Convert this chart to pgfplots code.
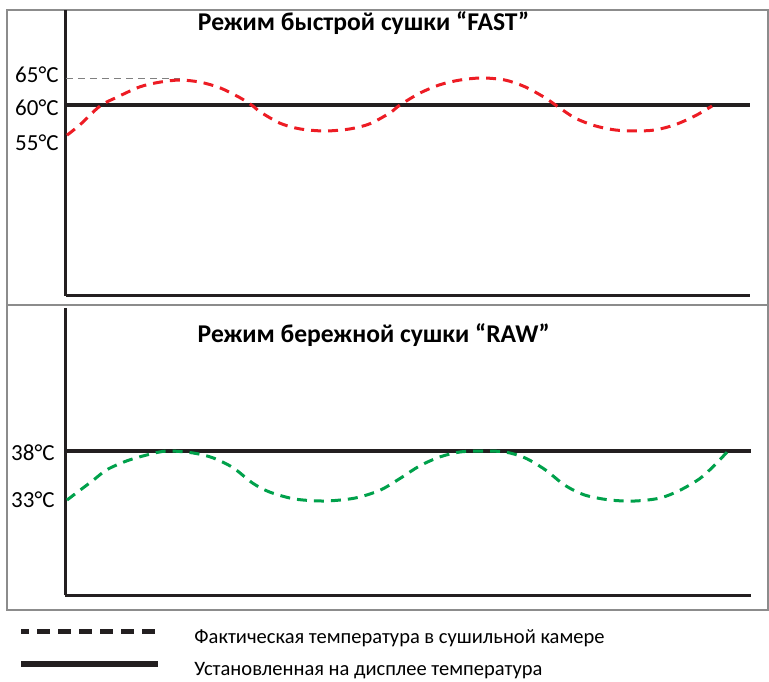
\documentclass[border=0pt]{standalone}
\usepackage{pgfplots}
\pgfplotsset{compat=1.18}
\usepackage{fontspec}
\setmainfont{Carlito}
\definecolor{axblack}{HTML}{231F20}
\definecolor{cred}{HTML}{ED1C24}
\definecolor{cgreen}{HTML}{00A14B}
\definecolor{framegray}{HTML}{8C8C8C}

% 1 px of the 769x675 reference = 0.5pt
\pgfplotsset{
  panel/.style={
    scale only axis,
    axis x line=bottom, axis y line=left,
    axis line style={-, axblack, line width=1.5pt},
    xtick=\empty, major tick length=0pt,
    xmin=0,
    yticklabel style={font=\fontsize{11.5}{13}\selectfont, inner sep=1pt},
    every axis title/.style={font=\fontsize{12.8}{14}\selectfont\bfseries, anchor=center},
  },
  setpoint/.style={axblack, line width=1.6pt},
  actual/.style={line width=1.5pt, dash pattern=on 5pt off 3.5pt, smooth},
}

\begin{document}
\fontsize{10.5}{12}\selectfont
\begin{tikzpicture}
\path (0pt,0pt) rectangle (384.5pt,337.5pt);
\draw[framegray, line width=1pt] (3.5pt,32.5pt) rectangle (384pt,332.5pt);
\draw[framegray, line width=1pt] (3.5pt,185pt) -- (384pt,185pt);

% FAST mode
\begin{axis}[panel,
  at={(33pt,189.5pt)}, anchor=south west,
  width=342pt, height=143pt,
  xmax=684, ymin=23.27, ymax=78.27,
  ytick={52.7,59.4,65.8},
  yticklabels={55°C,60°C,65°C},
  yticklabel style={xshift=-2.5pt},
  title={Режим быстрой сушки “FAST”},
  title style={at={(0.435,0.955)}},
]
\addplot[gray, line width=0.5pt, dash pattern=on 3.5pt off 2.5pt] coordinates {(0,65) (114,65)};
\addplot[setpoint] coordinates {(0,60) (684,60)};
\addplot[actual, cred] coordinates {
(1,54.2) (14,56.2) (34,59.8) (51,61.5) (74,63.5) (94,64.4) (114,64.8)
(134,64.4) (154,63.3) (174,61.4) (187,59.8) (194,58.7) (214,56.5)
(234,55.4) (259,55.0) (284,55.4) (304,56.4) (324,58.5) (334,60.0)
(354,62.3) (374,63.9) (394,64.8) (416,65.2) (439,64.8) (459,63.5)
(479,61.4) (491,59.8) (509,57.5) (529,56.0) (549,55.2) (569,55.0)
(589,55.2) (609,56.2) (629,57.9) (646,59.8)
};
\end{axis}

% RAW mode
\begin{axis}[panel,
  at={(32.5pt,40pt)}, anchor=south west,
  width=343pt, height=143.5pt,
  xmax=686, ymin=23.31, ymax=52.59,
  ytick={33,37.8},
  yticklabels={33°C,38°C},
  yticklabel style={xshift=-4pt},
  title={Режим бережной сушки “RAW”},
  title style={at={(0.450,0.906)}},
  legend cell align=left,
  legend image code/.code={
    \draw[#1] (0pt,3.4pt) -- (68.5pt,3.4pt);
    \path (84pt,3.4pt);
  },
  legend style={at={(-0.0685,-0.113)}, anchor=north west,
    draw=none, fill=none, inner sep=0pt, row sep=6pt,
    nodes={inner sep=1pt},
    font=\fontsize{10.25}{12}\selectfont},
]
\addlegendimage{axblack, line width=2.2pt, dash pattern=on 6.5pt off 4pt, dash phase=2.5pt}
\addlegendentry{Фактическая температура в сушильной камере}
\addlegendimage{axblack, line width=3pt}
\addlegendentry{Установленная на дисплее температура}
\addplot[setpoint] coordinates {(0,38) (686,38)};
\addplot[actual, cgreen] coordinates {
(2,33.0) (15,34.0) (28,35.0) (42,36.1) (62,37.0) (82,37.6) (102,38.0)
(128,37.8) (148,37.3) (168,36.3) (188,34.7) (205,33.8) (230,33.1)
(260,32.9) (290,33.2) (315,34.0) (335,35.2) (355,36.5) (375,37.4)
(395,37.9) (417,38.0) (440,37.9) (460,37.3) (480,36.1) (500,34.5)
(520,33.5) (545,33.0) (570,32.9) (595,33.2) (615,34.0) (635,35.2)
(650,36.6) (663,38.0)
};
\end{axis}
\end{tikzpicture}
\end{document}
